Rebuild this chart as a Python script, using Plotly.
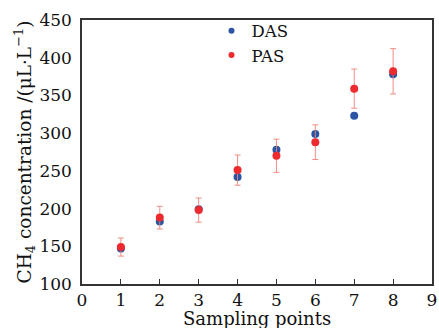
import plotly.graph_objects as go

points = [1, 2, 3, 4, 5, 6, 7, 8]
das = [147, 183, 199, 242, 278, 299, 323, 378]
pas = [149, 188, 198, 251, 270, 288, 359, 382]
pas_err = [12, 15, 16, 20, 22, 23, 26, 30]
series_names = ["DAS", "PAS"]
series_colors = ["#2a55a4", "#ee2a2e"]
x_title = "Sampling points"
y_title = "CH<sub>4</sub> concentration /(μL·L<sup>−1</sup>)"

FONT = "DejaVu Serif"

fig = go.Figure()
fig.add_trace(go.Scatter(
    x=points, y=das, mode="markers", name=series_names[0], showlegend=False,
    marker=dict(color=series_colors[0], size=8),
))
fig.add_trace(go.Scatter(
    x=points, y=pas, mode="markers", name=series_names[1], showlegend=False,
    marker=dict(color=series_colors[1], size=8),
    error_y=dict(type="data", array=pas_err, visible=True,
                 color="rgba(240,130,120,0.9)", thickness=1, width=3),
))
# legend entries with smaller symbols
for nm, col in zip(series_names, series_colors):
    fig.add_trace(go.Scatter(x=[None], y=[None], mode="markers", name=nm,
                             marker=dict(color=col, size=6)))

fig.add_annotation(text=x_title, xref="paper", yref="paper", x=0.5, y=-0.0833,
                   xanchor="center", yanchor="top", showarrow=False,
                   font=dict(size=18, family=FONT, color="#111"))

fig.update_layout(
    width=439, height=328,
    margin=dict(l=82, r=7, t=20, b=44),
    paper_bgcolor="white", plot_bgcolor="white",
    font=dict(family=FONT, size=16, color="#111"),
    showlegend=True,
    legend=dict(x=0.37, y=1.025, xanchor="left", yanchor="top",
                bgcolor="rgba(0,0,0,0)", font=dict(size=16.5, family=FONT),
                itemwidth=30, tracegroupgap=0),
    xaxis=dict(range=[0, 9], tick0=0, dtick=1, ticks="inside", ticklen=5,
               tickcolor="#333", showline=True, linecolor="#333", linewidth=1.5,
               mirror=True, showgrid=False, zeroline=False, automargin=False,
               ticklabelstandoff=0,
               tickfont=dict(size=17)),
    yaxis=dict(range=[100, 450], tick0=100, dtick=50, ticks="",
               showline=True, linecolor="#333", linewidth=1.5,
               mirror=True, showgrid=False, zeroline=False, automargin=False,
               ticklabelstandoff=5,
               title=dict(text=y_title, standoff=3, font=dict(size=18.5)),
               tickfont=dict(size=17)),
)

fig.write_html("out.html", config={"displayModeBar": False},
               post_script="document.body.style.margin='0px';")
